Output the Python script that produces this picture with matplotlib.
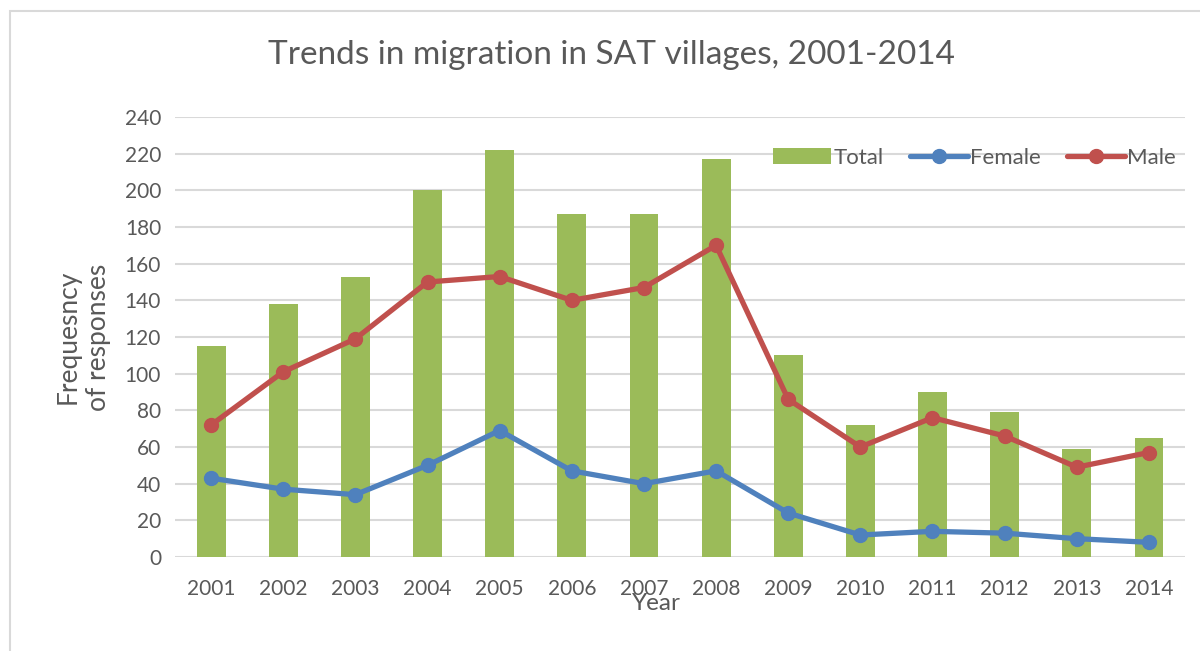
import matplotlib.pyplot as plt
from matplotlib.patches import Rectangle

plt.rcParams['font.family'] = ['Lato', 'DejaVu Sans']

years = ['2001', '2002', '2003', '2004', '2005', '2006', '2007',
         '2008', '2009', '2010', '2011', '2012', '2013', '2014']
total = [115, 138, 153, 200, 222, 187, 187, 217, 110, 72, 90, 79, 59, 65]
female = [43, 37, 34, 50, 69, 47, 40, 47, 24, 12, 14, 13, 10, 8]
male = [72, 101, 119, 150, 153, 140, 147, 170, 86, 60, 76, 66, 49, 57]

green = '#9BBB59'
blue = '#4F81BD'
red = '#C0504D'
grey = '#595959'

fig = plt.figure(figsize=(12, 6.51), dpi=100)
ax = fig.add_axes([175 / 1200, 1 - 557 / 651, 1010 / 1200, 440 / 651])

# chart frame
fig.patches.append(Rectangle((10 / 1200, -0.05), 1.2, 1 - 11 / 651 + 0.05,
                             transform=fig.transFigure, fill=False,
                             edgecolor='#D9D9D9', linewidth=1.5))

x = list(range(len(years)))
bars = ax.bar(x, total, width=0.4, color=green, label='Total', zorder=2)
lf, = ax.plot(x, female, color=blue, lw=3.8, marker='o', ms=10,
              solid_capstyle='round', label='Female', zorder=3)
lm, = ax.plot(x, male, color=red, lw=3.8, marker='o', ms=10,
              solid_capstyle='round', label='Male', zorder=3)

ax.set_xlim(-0.5, len(years) - 0.5)
ax.set_ylim(0, 240)
ax.set_yticks(range(0, 241, 20))
ax.set_xticks(x)
ax.set_xticklabels(years)
ax.grid(axis='y', color='#D9D9D9', lw=1.5, zorder=0)
ax.set_axisbelow(True)
for s in ax.spines.values():
    s.set_visible(False)
ax.tick_params(length=0, labelsize=15, colors=grey, pad=10)
ax.tick_params(axis='x', pad=16)

fig.text(612 / 1200, 1 - 55 / 651, 'Trends in migration in SAT villages, 2001-2014',
         fontsize=24, color=grey, ha='center', va='center')
ax.set_ylabel('Frequesncy\nof responses', fontsize=19, color=grey,
              labelpad=10, linespacing=1.25)
ax.set_xlabel('Year', fontsize=17.5, color=grey)
ax.xaxis.set_label_coords((656 - 175) / 1010, -(603 - 557) / 440, transform=None)
ax.xaxis.label.set_transform(ax.transAxes)
ax.xaxis.label.set_verticalalignment('center')

ax.legend([bars, lf, lm], ['Total', 'Female', 'Male'], loc='center right',
          bbox_to_anchor=(1.0, (557 - 158) / 440), ncol=3,
          frameon=False, fontsize=16, labelcolor=grey, handlelength=2.6,
          handletextpad=0.1, columnspacing=1.2, borderaxespad=0)

fig.savefig('out.png', dpi=100)
